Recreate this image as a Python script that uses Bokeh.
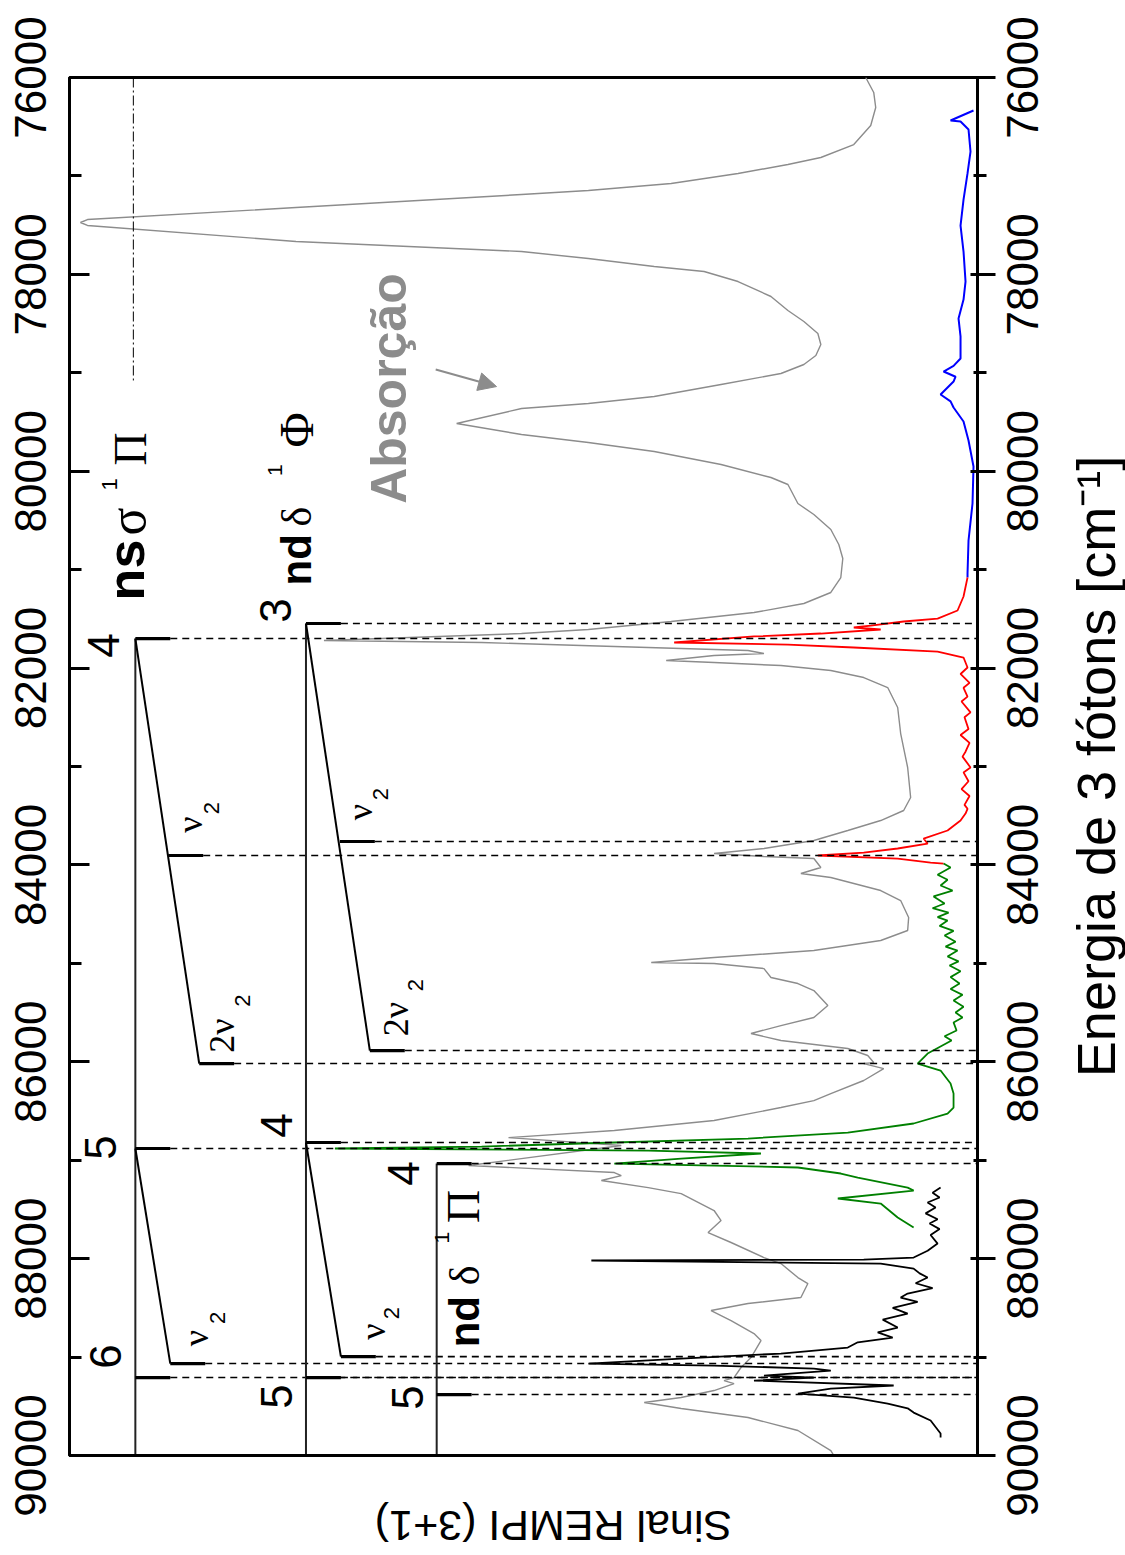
import math
from bokeh.plotting import figure
from bokeh.layouts import row, column
from bokeh.models import (Range1d, LinearAxis, FixedTicker, ColumnDataSource, Arrow,
                          NormalHead, CustomLabelingPolicy)
from bokeh.core.properties import value
from bokeh.embed import file_html
from bokeh.resources import INLINE

# ---------------- data (energy in cm^-1, signal in arbitrary units) ----------------
gray_E = [76000, 76152, 76305, 76488, 76681, 76813, 76884, 76975, 77077, 77148,
          77189, 77321, 77443, 77473, 77503, 77666, 77768, 77839, 77920, 77971,
          78073, 78225, 78367, 78479, 78601, 78713, 78824, 78916, 79007, 79119,
          79241, 79312, 79363, 79515, 79627, 79708, 79800, 79932, 80064, 80135,
          80328, 80440, 80592, 80745, 80887, 81080, 81232, 81344, 81436, 81527,
          81608, 81649, 81720, 81740, 81771, 81801, 81822, 81852, 81872, 81923,
          81944, 81974, 82025, 82096, 82198, 82401, 82665, 83010, 83315, 83447,
          83549, 83650, 83752, 83833, 83884, 83915, 83935, 84026, 84087, 84128,
          84260, 84362, 84534, 84666, 84768, 84870, 84941, 84992, 85002, 85053,
          85144, 85205, 85276, 85428, 85550, 85632, 85713, 85784, 85865, 85936,
          86008, 86018, 86069, 86190, 86323, 86394, 86465, 86597, 86698, 86770,
          86851, 87054, 87125, 87156, 87206, 87278, 87339, 87511, 87613, 87735,
          87836, 87989, 88050, 88192, 88253, 88395, 88456, 88527, 88629, 88761,
          88832, 89005, 89106, 89208, 89239, 89269, 89340, 89411, 89462, 89523,
          89614, 89746, 89950, 90000]
gray_S = [112, 104, 102, 107, 124, 157, 190, 240, 307, 390,
          457, 683, 892, 899, 892, 683, 457, 390, 324, 274,
          240, 207, 190, 174, 160, 157, 162, 174, 197, 257,
          324, 390, 457, 522, 457, 390, 324, 257, 207, 190,
          180, 164, 147, 139, 135, 137, 147, 174, 224, 307,
          390, 457, 655, 497, 397, 297, 230, 214, 264, 312,
          264, 197, 147, 114, 90, 80, 77, 70, 67, 74,
          97, 130, 164, 214, 264, 214, 164, 157, 177, 147,
          97, 77, 69, 70, 97, 164, 264, 327, 264, 214,
          207, 180, 164, 150, 164, 197, 227, 197, 130, 110,
          104, 114, 94, 114, 147, 164, 197, 264, 364, 470,
          357, 510, 364, 357, 377, 330, 297, 264, 257, 270,
          247, 214, 197, 180, 170, 177, 230, 267, 247, 224,
          217, 227, 237, 244, 254, 244, 264, 297, 334, 297,
          230, 180, 147, 144]

blue_E = [76335, 76437, 76447, 76528, 76752, 76975, 77240, 77504, 77768, 78073,
          78256, 78449, 78631, 78855, 78930, 78987, 79040, 79089, 79150, 79221,
          79290, 79353, 79495, 79688, 79952, 80328, 80704, 81039, 81080]
blue_S = [4, 27, 17, 9, 7, 10, 14, 17, 14, 12,
          14, 19, 17, 17, 24, 34, 22, 24, 30, 37,
          27, 24, 14, 9, 4, 5, 9, 10, 10]

red_E = [81080, 81273, 81415, 81497, 81527, 81568, 81588, 81608, 81649, 81679,
         81740, 81761, 81791, 81832, 81893, 81994, 82060, 82150, 82200, 82290,
         82340, 82450, 82500, 82620, 82680, 82760, 82850, 82900, 83010, 83060,
         83150, 83230, 83300, 83390, 83430, 83478, 83549, 83650, 83732, 83783,
         83833, 83874, 83904, 83935, 83976, 83986]
red_S = [10, 14, 20, 40, 74, 107, 124, 97, 157, 224,
         304, 190, 124, 40, 14, 10, 17, 8, 14, 10,
         16, 7, 13, 9, 17, 8, 12, 15, 7, 14,
         9, 16, 8, 13, 10, 12, 17, 30, 54, 50,
         80, 114, 160, 80, 47, 34]

green_E = [83986, 84026, 84100, 84150, 84209, 84260, 84320, 84392, 84440, 84484,
           84530, 84565, 84620, 84670, 84717, 84780, 84830, 84870, 84930, 84980,
           85022, 85080, 85140, 85205, 85260, 85320, 85378, 85440, 85500, 85550,
           85600, 85682, 85740, 85784, 85850, 85916, 86018, 86089, 86221, 86323,
           86465, 86526, 86627, 86719, 86780, 86820, 86861, 86881, 86902, 86932,
           86983, 87034, 87054, 87074, 87135, 87176, 87278, 87308, 87389, 87440,
           87582, 87684]
green_S = [34, 27, 40, 30, 37, 25, 44, 33, 45, 29,
           40, 30, 38, 24, 33, 22, 32, 20, 30, 19,
           28, 17, 27, 18, 27, 15, 24, 14, 22, 15,
           24, 21, 33, 26, 38, 50, 60, 37, 27, 24,
           24, 30, 64, 130, 230, 364, 497, 644, 330, 217,
           297, 364, 264, 180, 137, 120, 70, 64, 140, 97,
           80, 64]

black_E = [87278, 87330, 87379, 87430, 87481, 87540, 87600, 87643, 87700, 87760,
           87847, 87920, 87989, 88009, 88019, 88050, 88101, 88150, 88192, 88250,
           88300, 88355, 88395, 88440, 88500, 88558, 88620, 88700, 88750, 88802,
           88850, 88903, 88964, 89015, 89066, 89086, 89117, 89137, 89188, 89208,
           89239, 89289, 89320, 89371, 89411, 89472, 89520, 89564, 89645, 89777,
           89818]
black_S = [37, 45, 38, 50, 42, 52, 40, 48, 38, 47,
           40, 50, 64, 114, 387, 97, 64, 58, 50, 62,
           45, 70, 77, 60, 85, 70, 95, 80, 100, 85,
           120, 130, 197, 297, 390, 264, 164, 147, 214, 164,
           224, 84, 147, 180, 124, 90, 70, 64, 47, 37,
           37]

# level diagrams: columns (signal position) and level energies
col_S = [844, 673, 542]                 # ns sigma 1Pi, nd delta 1Phi, nd delta 1Pi
col_E0 = [81700, 81547, 87034]
bar_S = [844, 811, 780, 844, 809, 844, 673, 639, 609, 673, 638, 673, 542, 542]
bar_E = [81700, 83904, 86018, 86881, 89066, 89208,
         81547, 83762, 85886, 86820, 88995, 89208,
         87034, 89381]
bar_len = 35
slant_S0 = [844, 844, 673, 673]
slant_E0 = [81700, 86881, 81547, 86820]
slant_S1 = [780, 809, 609, 638]
slant_E1 = [86018, 89066, 85886, 88995]
limit_S = 846
limit_E = [76000, 79078]

E_MIN, E_MAX = 76000, 90000
energy_ticks = [76000, 78000, 80000, 82000, 84000, 86000, 88000, 90000]
energy_minor = [77000, 79000, 81000, 83000, 85000, 87000, 89000]
energy_tick_labels = [str(t) for t in energy_ticks]

SANS = "Liberation Sans"
SERIF = "Liberation Serif"
lab_text = ["ns", "σ", "1", "Π",
            "3", "nd", "δ", "1", "Φ",
            "nd", "δ", "1", "Π",
            "4", "5", "6", "4", "5", "4", "5",
            "ν", "2", "ν", "2", "2ν", "2", "2ν", "2", "ν", "2", "ν", "2",
            "Absorção"]
lab_S = [853, 852, 870, 849,
         704, 682, 682, 704, 682,
         514, 514, 537, 515,
         876, 879, 874, 703, 703, 575, 571,
         789, 768, 619, 598, 757, 737, 583, 563, 783, 762, 606, 587,
         590]
lab_E = [81004, 80511, 80135, 79774,
         81415, 80900, 80460, 79990, 79580,
         88640, 88170, 87786, 87470,
         81771, 86871, 88995, 86648, 89401, 87135, 89411,
         83590, 83422, 83463, 83280, 85733, 85378, 85566, 85220, 88807, 88603, 88741, 88553,
         79160]
lab_size = ["52px", "52px", "22px", "46px",
            "44px", "42px", "42px", "21px", "48px",
            "42px", "42px", "21px", "46px",
            "44px", "44px", "44px", "44px", "44px", "44px", "44px",
            "36px", "22px", "36px", "22px", "36px", "22px", "36px", "22px", "36px", "22px", "36px", "22px",
            "50px"]
lab_font = [SANS, SERIF, SANS, SERIF,
            SANS, SANS, SERIF, SANS, SERIF,
            SANS, SERIF, SANS, SERIF,
            SANS, SANS, SANS, SANS, SANS, SANS, SANS,
            SERIF, SANS, SERIF, SANS, SERIF, SANS, SERIF, SANS, SERIF, SANS, SERIF, SANS,
            SANS]
lab_style = ["bold", "normal", "normal", "normal",
             "normal", "bold", "normal", "normal", "normal",
             "bold", "normal", "normal", "normal"] + ["normal"] * 7 + ["normal"] * 12 + ["bold"]
lab_color = ["black"] * 32 + ["#8c8c8c"]

energy_title = "Energia de 3 fótons [cm⁻¹]"
energy_title_S = -118
energy_title_E = 83000
signal_title = "Sinal REMPI (3+1)"
signal_title_S = 425
signal_title_E = 90712
right_label_S = -45
left_label_S = 947

TICKFONT = "'Liberation Sans Narrow', 'Liberation Sans', sans-serif"
NO_LABELS = "return []"

# ---------------- layout geometry ----------------
CANVAS_H = 1555
TOP, BOTTOM_PAD = 77, 5
MAIN_H = 1460
FRAME_H = MAIN_H - TOP - BOTTOM_PAD
e_per_px = (E_MAX - E_MIN) / FRAME_H
side_E_top = E_MIN - TOP * e_per_px
side_E_bottom = E_MAX + (CANVAS_H - TOP - FRAME_H) * e_per_px
below_E_top = E_MAX + BOTTOM_PAD * e_per_px

# ---------------- main figure ----------------
y_rng = Range1d(E_MAX, E_MIN)
x_rng = Range1d(910, 0)
p = figure(width=934, height=MAIN_H, title=None, x_range=x_rng, y_range=y_rng,
           output_backend="svg", toolbar_location=None, y_axis_location="right",
           min_border_left=2, min_border_right=22, min_border_top=TOP,
           min_border_bottom=BOTTOM_PAD)
p.grid.visible = False
p.background_fill_color = "white"
p.border_fill_color = "white"
p.outline_line_color = "black"
p.outline_line_width = 3

def tick_axis(ax, t_in, t_out, m_in, m_out):
    ax.ticker = FixedTicker(ticks=energy_ticks, minor_ticks=energy_minor)
    ax.major_label_policy = CustomLabelingPolicy(code=NO_LABELS)
    ax.major_label_orientation = "vertical"
    ax.major_label_text_font_size = "1px"
    ax.major_label_standoff = 0
    ax.major_tick_in = t_in
    ax.major_tick_out = t_out
    ax.minor_tick_in = m_in
    ax.minor_tick_out = m_out
    ax.major_tick_line_width = 3
    ax.minor_tick_line_width = 3
    ax.axis_line_width = 3

tick_axis(p.yaxis[0], 7, 18, 4, 9)
la = LinearAxis()
tick_axis(la, 20, 0, 12, 0)
p.add_layout(la, "left")

ba = p.xaxis[0]
ba.ticker = FixedTicker(ticks=[])
ba.major_tick_line_color = None
ba.minor_tick_line_color = None
ba.major_tick_out = 0
ba.axis_line_width = 3

# spectra
p.line(gray_S, gray_E, line_color="#8c8c8c", line_width=1.4)
p.line(blue_S, blue_E, line_color="#0000ff", line_width=2)
p.line(red_S, red_E, line_color="#ff0000", line_width=1.8)
p.line(green_S, green_E, line_color="#008000", line_width=1.8)
p.line(black_S, black_E, line_color="black", line_width=1.8)

# level diagrams
bar_end = [s - bar_len for s in bar_S]
p.segment(x0=bar_end, y0=bar_E, x1=[0] * len(bar_E), y1=bar_E,
          line_color="black", line_width=1.6, line_dash="7 5")
p.segment(x0=col_S, y0=col_E0, x1=col_S, y1=[E_MAX] * len(col_S),
          line_color="#222222", line_width=2)
p.segment(x0=slant_S0, y0=slant_E0, x1=slant_S1, y1=slant_E1,
          line_color="black", line_width=2)
p.segment(x0=bar_S, y0=bar_E, x1=bar_end, y1=bar_E,
          line_color="black", line_width=3.2)
p.line([limit_S, limit_S], limit_E, line_color="black", line_width=1, line_dash="10 3 2 3")

p.add_layout(Arrow(end=NormalHead(size=18, fill_color="#8c8c8c", line_color="#8c8c8c"),
                   x_start=543, y_start=78967, x_end=482, y_end=79140,
                   line_color="#8c8c8c", line_width=2))

lab_src = ColumnDataSource(dict(x=lab_S, y=lab_E, text=lab_text, size=lab_size,
                                font=lab_font, style=lab_style, color=lab_color))
p.text(x="x", y="y", text="text", source=lab_src, angle=math.pi / 2,
       text_font="font", text_font_size="size", text_font_style="style",
       text_color="color", text_align="center", text_baseline="middle")

# ---------------- side panels (tick labels, energy title) ----------------
side_y = Range1d(side_E_bottom, side_E_top)

def side_panel(width, xr):
    f = figure(width=width, height=CANVAS_H, title=None, x_range=xr, y_range=side_y,
               output_backend="svg", toolbar_location=None, x_axis_location=None,
               y_axis_location=None, min_border_left=0, min_border_right=0,
               min_border_top=0, min_border_bottom=0)
    f.grid.visible = False
    f.outline_line_color = None
    f.border_fill_color = "white"
    f.background_fill_color = "white"
    return f

lp = side_panel(65, Range1d(977, 912))
lp.text(x=[left_label_S] * len(energy_ticks), y=energy_ticks, text=energy_tick_labels,
        angle=math.pi / 2, text_font=value(TICKFONT), text_font_size="44px",
        text_color="black", text_align="center", text_baseline="middle")

rp = side_panel(126, Range1d(-22, -148))
rp.text(x=[right_label_S] * len(energy_ticks), y=energy_ticks, text=energy_tick_labels,
        angle=math.pi / 2, text_font=value(TICKFONT), text_font_size="44px",
        text_color="black", text_align="center", text_baseline="middle")
rp.text(x=[energy_title_S], y=[energy_title_E], text=[energy_title], angle=math.pi / 2,
        text_font=value(SANS), text_font_size="54px", text_color="black",
        text_align="center", text_baseline="middle")

# ---------------- bottom panel: signal axis title ----------------
b = figure(width=934, height=CANVAS_H - MAIN_H, title=None, x_range=x_rng,
           y_range=Range1d(side_E_bottom, below_E_top),
           output_backend="svg", toolbar_location=None, x_axis_location=None,
           y_axis_location=None,
           min_border_left=2, min_border_right=22, min_border_top=0, min_border_bottom=0)
b.grid.visible = False
b.outline_line_color = None
b.text(x=[signal_title_S], y=[signal_title_E], text=[signal_title], angle=math.pi,
       text_font=value(SANS), text_font_size="43px", text_color="black",
       text_align="center", text_baseline="middle")

layout = row(lp, column(p, b, spacing=0), rp, spacing=0)
open("out.html", "w").write(file_html(layout, INLINE))
